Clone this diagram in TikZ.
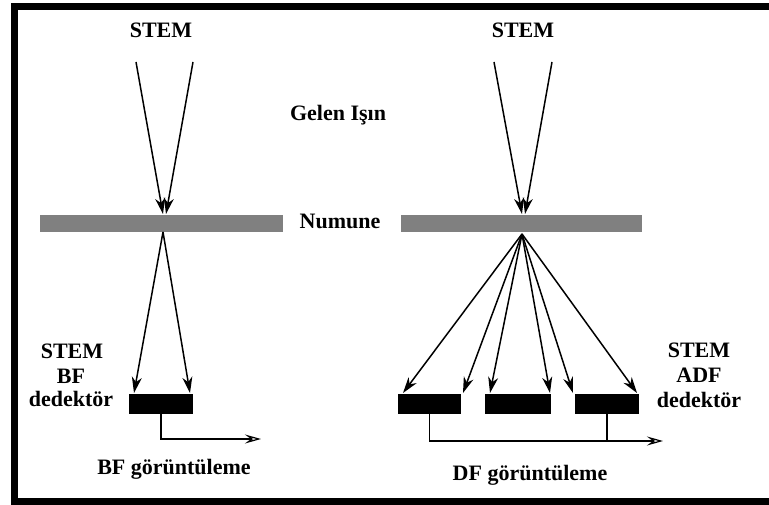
\documentclass[tikz,border=0pt]{standalone}
\usepackage{fontspec}
\setmainfont{Liberation Serif}
\usetikzlibrary{arrows.meta}
\begin{document}
\begin{tikzpicture}[x=1pt,y=-1pt,
  lbl/.style={font=\fontsize{22}{24}\selectfont\bfseries, anchor=base, inner sep=0pt},
  samplebar/.style={fill=black!50, draw=none, inner sep=0pt, minimum height=17pt},
  detbox/.style={fill=black, draw=none, inner sep=0pt, minimum height=20pt},
  ray/.style={line width=1.5pt, -{Stealth[length=16pt,width=10pt,inset=5pt]}},
  signal/.style={line width=1.2pt},
  signalout/.style={signal, -{Stealth[open,length=16pt,width=9pt,inset=6pt]}}]
\useasboundingbox (0,0) rectangle (769,505);
\fill[white] (0,0) rectangle (769,505);
% outer frame (open on the right)
\draw[line width=7pt] (790,6.5) -- (14.5,6.5) -- (14.5,501) -- (790,501);

% ---------- bright field (left) ----------
\node[lbl] (stemA) at (161,38) {STEM};
\node[lbl] (incident) at (338,121) {Gelen Işın};
\node[lbl] (sample) at (340,229) {Numune};
\node[samplebar, minimum width=243pt] (lsample) at (161.5,223.5) {};
\coordinate (lsrcA) at (136,62);
\coordinate (lsrcB) at (193,62);
\coordinate (lfocA) at (163,214);
\coordinate (lfocB) at (166,214);
\coordinate (lexit) at (163,232);
\draw[ray] (lsrcA) -- (lfocA);
\draw[ray] (lsrcB) -- (lfocB);
\node[detbox, minimum width=64pt] (bfdet) at (161,404) {};
\coordinate (bfhitA) at (134,393);
\coordinate (bfhitB) at (190,393);
\draw[ray] (lexit) -- (bfhitA);
\draw[ray] (lexit) -- (bfhitB);
\coordinate (bfout) at (261,439);
\draw[signalout] (bfdet.south) |- (bfout);
\node[lbl] (bfstem) at (72,358) {STEM};
\node[lbl] (bfname) at (71,383) {BF};
\node[lbl] (bfdetlbl) at (71,406) {dedektör};
\node[lbl] (bfimg) at (174,474) {BF görüntüleme};

% ---------- annular dark field (right) ----------
\node[lbl] (stemB) at (523,38) {STEM};
\node[samplebar, minimum width=241pt] (rsample) at (521.5,224) {};
\coordinate (rsrcA) at (494,62);
\coordinate (rsrcB) at (552,62);
\coordinate (rfocA) at (522,214);
\coordinate (rfocB) at (525,214);
\coordinate (rexit) at (522,234);
\draw[ray] (rsrcA) -- (rfocA);
\draw[ray] (rsrcB) -- (rfocB);
\node[detbox, minimum width=63pt] (adfA) at (429.5,403.5) {};
\node[detbox, minimum width=66pt] (adfB) at (518,403.5) {};
\node[detbox, minimum width=64pt] (adfC) at (607,403.5) {};
\foreach \x in {403,463,490,550,573,637}
  \draw[ray] (rexit) -- (\x,393);
\coordinate (dfout) at (663,441);
\draw[signalout] (adfA.south) |- (dfout);
\draw[signal] (adfC.south) -- (adfC.south |- dfout);
\node[lbl] (adfstem) at (699,357) {STEM};
\node[lbl] (adfname) at (699,382) {ADF};
\node[lbl] (adfdetlbl) at (699,407) {dedektör};
\node[lbl] (dfimg) at (530,480) {DF görüntüleme};
\end{tikzpicture}
\end{document}
